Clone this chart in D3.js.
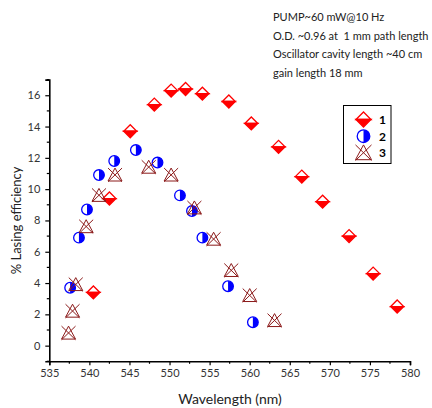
<!DOCTYPE html>
<html>
<head>
<meta charset="utf-8">
<script src="https://cdn.jsdelivr.net/npm/d3@7"></script>
<style>
  html, body { margin: 0; padding: 0; background: #fff; }
  svg { display: block; font-family: Lato, "Open Sans", sans-serif; }
</style>
</head>
<body>
<svg id="chart" width="432" height="408"></svg>
<script>
// Series 1: red half-filled diamonds
const s1x = [540.5, 542.5, 545.1, 548.1, 550.2, 552.0, 554.1, 557.4, 560.2, 563.6, 566.5, 569.1, 572.4, 575.4, 578.4];
const s1y = [3.4, 9.4, 13.7, 15.4, 16.3, 16.4, 16.1, 15.6, 14.2, 12.7, 10.8, 9.2, 7.0, 4.6, 2.5];
// Series 2: blue half-filled circles
const s2x = [537.6, 538.7, 539.7, 541.2, 543.1, 545.8, 548.5, 551.3, 552.8, 554.1, 557.3, 560.4];
const s2y = [3.7, 6.9, 8.7, 10.9, 11.8, 12.5, 11.7, 9.6, 8.6, 6.9, 3.8, 1.5];
// Series 3: dark red crossed triangles
const s3x = [537.4, 537.9, 538.3, 539.6, 541.2, 543.2, 547.4, 550.2, 553.1, 555.5, 557.7, 560.0, 563.1];
const s3y = [0.8, 2.2, 3.9, 7.6, 9.6, 10.9, 11.4, 10.9, 8.8, 6.8, 4.8, 3.2, 1.6];

const seriesNames = ["1", "2", "3"];
const xTicks = [535, 540, 545, 550, 555, 560, 565, 570, 575, 580];
const yTicks = [0, 2, 4, 6, 8, 10, 12, 14, 16];
const notes = [
  "PUMP~60 mW@10 Hz",
  "O.D. ~0.96 at  1 mm path length",
  "Oscillator cavity length ~40 cm",
  "gain length 18 mm"
];

const svg = d3.select("#chart");
const x = d3.scaleLinear().domain([535, 580]).range([49.3, 410]);
const y = d3.scaleLinear().domain([-1, 17]).range([361.3, 79.6]);

const RED = "#ff0000", BLUE = "#0000ff", DRED = "#8b1a1a";

// ---- axes ----
const xAxis = d3.axisBottom(x).tickValues(xTicks).tickSize(4).tickPadding(4).tickFormat(d3.format("d"));
const yAxis = d3.axisLeft(y).tickValues(yTicks).tickSize(4).tickPadding(5).tickFormat(d3.format("d"));

const gx = svg.append("g").attr("transform", `translate(0,${y(-1)})`).call(xAxis);
const gy = svg.append("g").attr("transform", `translate(${x(535)},0)`).call(yAxis);
[gx, gy].forEach(g => {
  g.select(".domain").attr("stroke", "#000").attr("stroke-width", 1.6);
  g.selectAll(".tick line").attr("stroke", "#000").attr("stroke-width", 1.2);
  g.selectAll(".tick text").attr("fill", "#333").style("font-size", "11px").style("font-family", "Lato, sans-serif");
});

// minor ticks
const xMinor = d3.range(537.5, 580, 5);
svg.append("g").selectAll("line").data(xMinor).join("line")
  .attr("x1", d => x(d)).attr("x2", d => x(d))
  .attr("y1", y(-1)).attr("y2", y(-1) + 2.5)
  .attr("stroke", "#000").attr("stroke-width", 1.2);
const yMinor = d3.range(-1, 18, 2);
svg.append("g").selectAll("line").data(yMinor).join("line")
  .attr("x1", x(535)).attr("x2", x(535) - 2.5)
  .attr("y1", d => y(d)).attr("y2", d => y(d))
  .attr("stroke", "#000").attr("stroke-width", 1.2);

// axis titles
svg.append("text")
  .attr("x", 230).attr("y", 404)
  .attr("text-anchor", "middle")
  .attr("fill", "#222")
  .style("font-size", "14px")
  .text("Wavelength (nm)");
svg.append("text")
  .attr("transform", `translate(21,${y(8)}) rotate(-90)`)
  .attr("text-anchor", "middle")
  .attr("fill", "#222")
  .style("font-size", "13px")
  .text("% Lasing efficiency");

// ---- marker shapes ----
function diamond(g, s) {
  // top half open, bottom half filled
  g.append("path").attr("d", `M${-s},0 L0,${-s} L${s},0 Z`)
    .attr("fill", "#fff").attr("stroke", RED).attr("stroke-width", 1.3);
  g.append("path").attr("d", `M${-s},0 L0,${s} L${s},0 Z`)
    .attr("fill", RED).attr("stroke", RED).attr("stroke-width", 1.3);
}
function halfCircle(g, r) {
  g.append("circle").attr("r", r).attr("fill", "#fff").attr("stroke", BLUE).attr("stroke-width", 1.3);
  g.append("path").attr("d", `M0,${-r} A${r},${r} 0 0 1 0,${r} Z`).attr("fill", BLUE);
}
function crossTri(g, s) {
  g.append("path").attr("d", `M${-s},${s * 0.85} L0,${-s} L${s},${s * 0.85} Z`)
    .attr("fill", "none").attr("stroke", DRED).attr("stroke-width", 1);
  g.append("path").attr("d", `M${-s},${-s} L${s},${s * 0.95} M${s},${-s} L${-s},${s * 0.95}`)
    .attr("fill", "none").attr("stroke", DRED).attr("stroke-width", 1);
}

function plotSeries(xs, ys, draw, size) {
  const g = svg.append("g");
  xs.forEach((v, i) => {
    const m = g.append("g").attr("transform", `translate(${x(v)},${y(ys[i])})`);
    draw(m, size);
  });
}

plotSeries(s1x, s1y, diamond, 6.5);
plotSeries(s2x, s2y, halfCircle, 5.3);
plotSeries(s3x, s3y, crossTri, 7);

// ---- legend ----
const leg = svg.append("g");
leg.append("rect").attr("x", 343.5).attr("y", 105.5).attr("width", 47.5).attr("height", 58)
  .attr("fill", "#fff").attr("stroke", "#000").attr("stroke-width", 1);
const legDraw = [[diamond, 7.5], [halfCircle, 6.3], [crossTri, 8]];
seriesNames.forEach((n, i) => {
  const cy = 119.5 + i * 16.7;
  legDraw[i][0](leg.append("g").attr("transform", `translate(363.5,${cy})`), legDraw[i][1]);
  leg.append("text").attr("x", 379).attr("y", cy + 4.5)
    .style("font-size", "12px").style("font-weight", "bold").attr("fill", "#000").text(n);
});

// ---- notes ----
svg.append("g").selectAll("text").data(notes).join("text")
  .attr("x", 273).attr("y", (d, i) => 21 + i * 18.6)
  .attr("fill", "#222")
  .style("font-size", "11px")
  .style("white-space", "pre")
  .text(d => d);
</script>
</body>
</html>
